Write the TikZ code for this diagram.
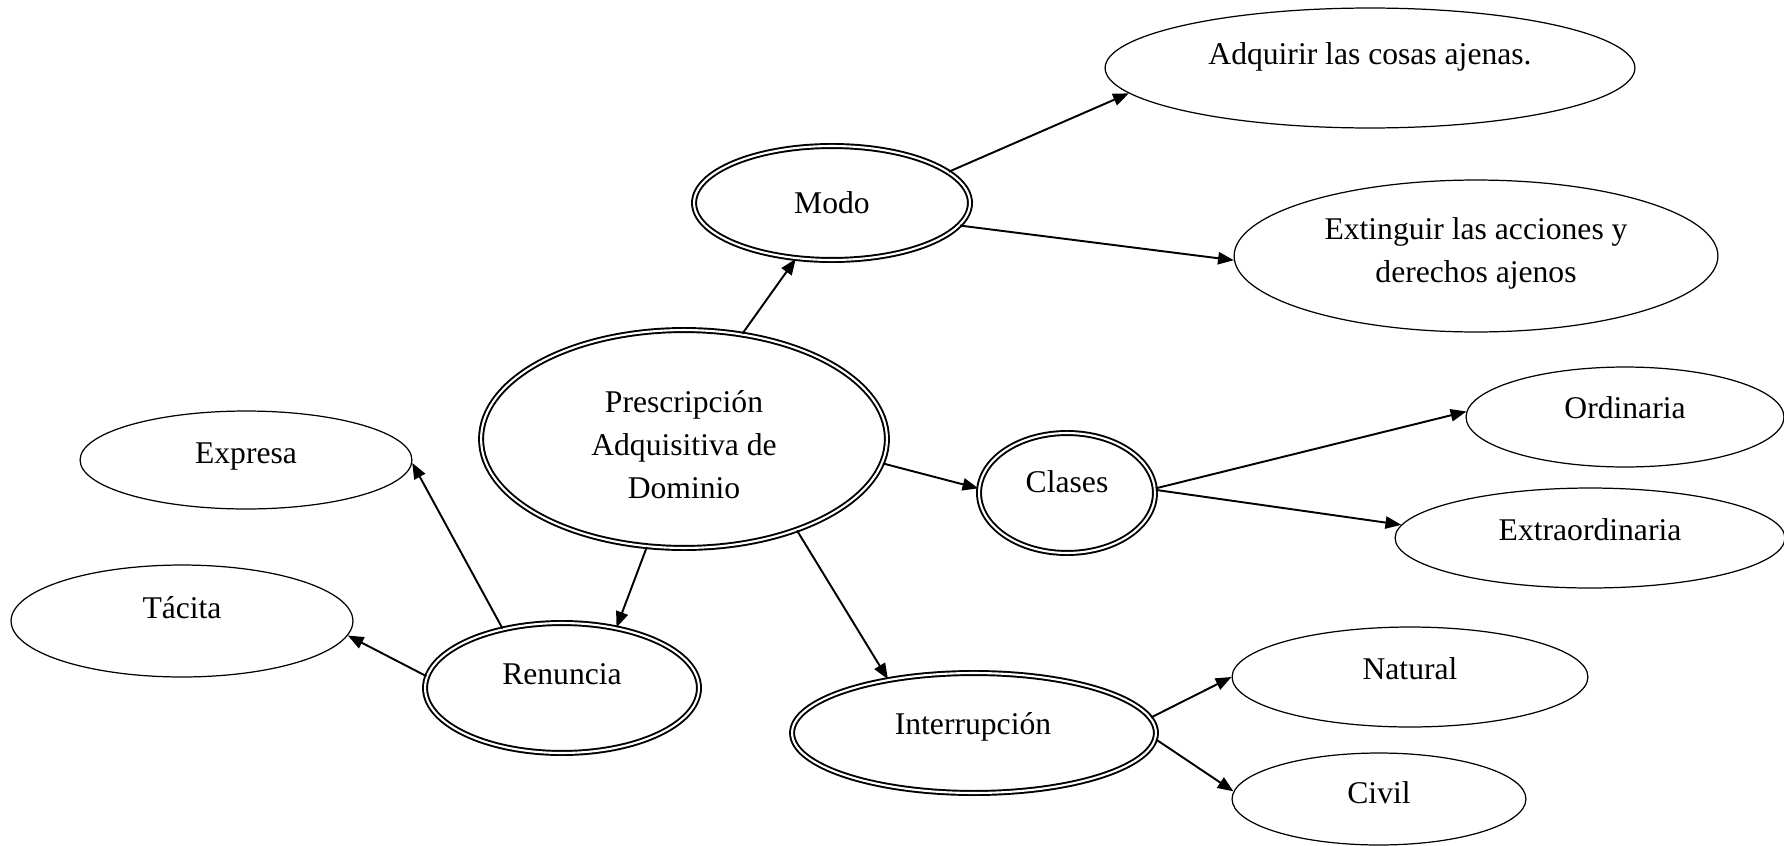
\documentclass[tikz,border=0pt]{standalone}
\usepackage{fontspec}
\setmainfont{Liberation Serif}
\usetikzlibrary{arrows.meta,shapes.geometric}
\begin{document}
\begin{tikzpicture}[x=0.02cm,y=-0.02cm,
  esz/.style 2 args={minimum width=#1*0.04cm, minimum height=#2*0.04cm},
  sgl/.style={ellipse, draw, line width=0.7pt, inner sep=0pt},
  dbl/.style={ellipse, draw, double, line width=1.1pt, double distance=1.2pt, inner sep=0pt},
  txt/.style={font=\fontsize{18}{24.4}\selectfont, inner sep=0pt, align=center},
  arr/.style={line width=1.1pt, -{Triangle[length=9pt,width=7pt]}}]
\useasboundingbox (0,0) rectangle (1784,845);
% ellipses
\node[dbl, esz={203}{109}] (P) at (684,439) {};
\node[dbl, esz={138}{57}] (M) at (832,203) {};
\node[sgl, esz={265}{60}] (A) at (1370,68) {};
\node[sgl, esz={242}{76}] (E) at (1476,256) {};
\node[sgl, esz={166}{49}] (X) at (246,460) {};
\node[sgl, esz={171}{56}] (T) at (182,621) {};
\node[dbl, esz={137}{65}] (R) at (562,688) {};
\node[dbl, esz={88}{60}] (C) at (1067,493) {};
\node[sgl, esz={159}{50}] (O) at (1625,417) {};
\node[sgl, esz={195}{50}] (XO) at (1590,538) {};
\node[dbl, esz={182}{60}] (I) at (974,733) {};
\node[sgl, esz={178}{50}] (N) at (1410,677) {};
\node[sgl, esz={147}{46}] (V) at (1379,799) {};
% texts
\node[txt] (Pt) at (684,445) {Prescripción\\Adquisitiva de\\Dominio};
\node[txt, anchor=base] (Mt) at (832,213) {Modo};
\node[txt, anchor=base] (At) at (1370,64) {Adquirir las cosas ajenas.};
\node[txt] (Et) at (1476,253) {Extinguir las acciones y\\derechos ajenos};
\node[txt, anchor=base] (Xt) at (246,463) {Expresa};
\node[txt, anchor=base] (Tt) at (182,618) {Tácita};
\node[txt, anchor=base] (Rt) at (562,684) {Renuncia};
\node[txt, anchor=base] (Ct) at (1067,492) {Clases};
\node[txt, anchor=base] (Ot) at (1625,418) {Ordinaria};
\node[txt, anchor=base] (XOt) at (1590,540) {Extraordinaria};
\node[txt, anchor=base] (It) at (973,734) {Interrupción};
\node[txt, anchor=base] (Nt) at (1410,679) {Natural};
\node[txt, anchor=base] (Vt) at (1379,803) {Civil};
% connectors
\draw[arr] (P.61) -- (M.237);
\draw[arr] (M.15) -- (A.186);
\draw[arr] (M.-10) -- (E.181);
\draw[arr] (P.-7) -- (C.177);
\draw[arr] (C.3) -- (O.178);
\draw[arr] (C.2) -- (XO.176.5);
\draw[arr] (P.-39) -- (I.148);
\draw[arr] (P.251) -- (R.48);
\draw[arr] (R.135) -- (X.-1.4);
\draw[arr] (R.175) -- (T.-5.7);
\draw[arr] (I.5) -- (N.180);
\draw[arr] (I.-2.5) -- (V.177.7);
\end{tikzpicture}
\end{document}
